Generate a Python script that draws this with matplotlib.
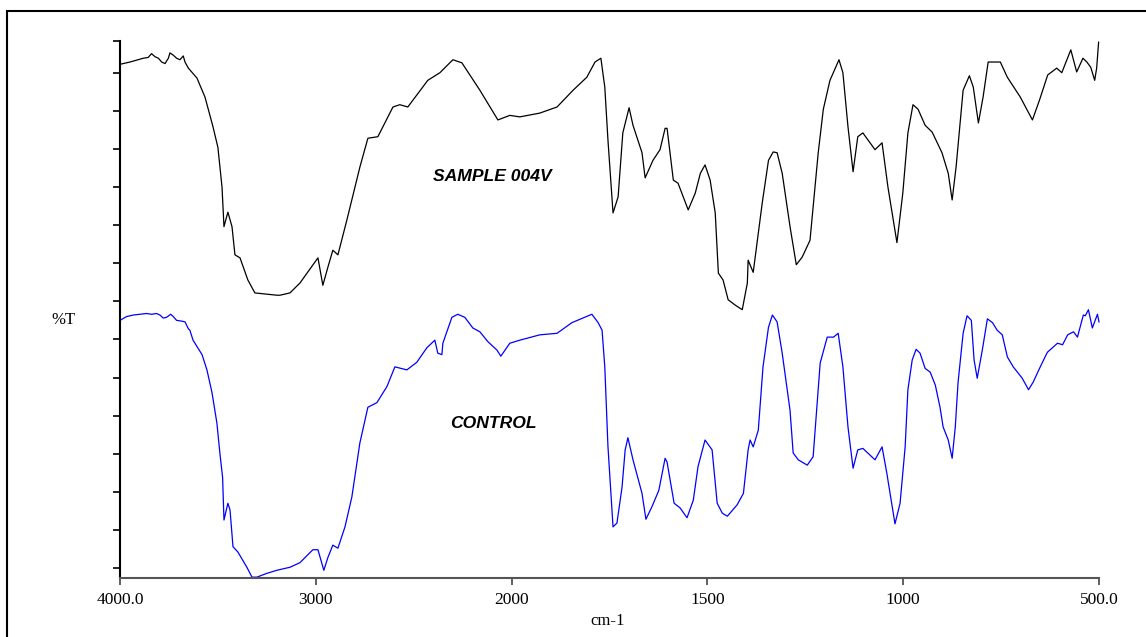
#import used libraries
import numpy as np
from matplotlib import pyplot as plt
from matplotlib.patches import Rectangle

#sample 004V spectrum (wavenumber cm-1, %T)
sample_wn = [4000, 3949, 3907, 3881, 3856, 3839, 3821, 3804, 3787, 3770, 3753, 3745, 3728, 3711,
             3694, 3677, 3668, 3651, 3607, 3566, 3525, 3500, 3479, 3474,
             3469, 3449, 3428, 3413, 3387, 3347, 3311, 3199, 3183, 3132, 3081, 3045, 2989, 2964,
             2938, 2913, 2887, 2841, 2775, 2734, 2683, 2606, 2571, 2530, 2428, 2366, 2300, 2254,
             2162, 2070, 2009, 1979, 1928, 1884, 1843, 1808, 1787, 1772, 1762, 1754, 1741, 1728,
             1716, 1700, 1690, 1667, 1659, 1639, 1621, 1608, 1603, 1587, 1575, 1549, 1531, 1518,
             1506, 1493, 1480, 1472, 1460, 1447, 1429, 1411, 1398, 1396, 1383, 1360, 1344, 1332,
             1322, 1309, 1289, 1273, 1258, 1238, 1217, 1204, 1187, 1164, 1154, 1141, 1128, 1116,
             1103, 1072, 1054, 1039, 1016, 1001, 988, 975, 962, 944, 926, 901, 885, 875, 865,
             847, 831, 821, 808, 796, 783, 770, 752, 734, 701, 670, 652, 631, 608, 595, 582,
             572, 557, 541, 531, 521, 511, 506, 501]
sample_t = [66.1, 66.4, 66.7, 66.9, 67.0, 67.5, 67.1, 66.9, 66.4, 66.2, 66.9, 67.6, 67.3, 66.9,
            66.7, 67.2, 66.4, 65.6, 64.3, 61.8, 57.9, 55.2, 50.0, 47.4,
            44.8, 46.7, 44.8, 41.1, 40.7, 37.8, 36.1, 35.8, 35.8, 36.1, 37.4, 38.7, 40.7, 37.1,
            39.5, 41.7, 41.1, 45.7, 52.6, 56.4, 56.6, 60.5, 60.8, 60.5, 64.0, 65.0, 66.7, 66.3,
            62.7, 58.8, 59.4, 59.2, 59.7, 60.5, 62.7, 64.4, 66.4, 66.9, 63.1, 56.2, 46.6, 48.7,
            57.1, 60.4, 58.1, 54.5, 51.2, 53.5, 54.9, 57.7, 57.7, 50.9, 50.5, 47.0, 49.2, 51.8,
            52.9, 50.9, 46.6, 38.7, 37.8, 35.2, 34.5, 33.9, 37.4, 40.4, 38.8, 47.9, 53.5, 54.6,
            54.5, 51.8, 44.8, 39.8, 40.8, 43.0, 54.5, 60.2, 64.0, 66.7, 65.0, 57.9, 52.0, 56.6,
            57.1, 54.9, 55.8, 50.0, 42.7, 49.2, 57.1, 60.8, 60.2, 58.1, 57.2, 54.5, 51.8, 48.3, 52.6,
            62.7, 64.6, 63.1, 58.4, 61.8, 66.4, 66.4, 66.4, 64.4, 61.8, 58.8, 61.4, 64.7, 65.6, 65.0, 66.7,
            68.0, 65.1, 66.9, 66.4, 65.7, 64.0, 65.6, 69.0]

#control spectrum (wavenumber cm-1, %T)
control_wn = [4000, 3966, 3932, 3898, 3864, 3839, 3813, 3796, 3779, 3762, 3741, 3728, 3711, 3685,
              3668, 3651, 3643, 3627, 3581, 3556, 3530, 3505,
              3490, 3476, 3472, 3469, 3449, 3438, 3423, 3398, 3352, 3326, 3301, 3250, 3199, 3132,
              3081, 3015, 2989, 2959, 2938, 2913, 2887, 2851, 2816, 2775, 2734, 2688, 2637, 2596,
              2535, 2484, 2433, 2392, 2377, 2356, 2351, 2305, 2275, 2239, 2198, 2162, 2121, 2075,
              2055, 2009, 1979, 1928, 1884, 1846, 1818, 1795, 1779, 1769, 1762, 1754, 1741, 1731,
              1718, 1710, 1703, 1690, 1667, 1657, 1642, 1624, 1608, 1603, 1585, 1570, 1552, 1536,
              1524, 1506, 1488, 1475, 1462, 1449, 1424, 1408, 1396, 1391, 1383, 1370, 1358, 1344,
              1334, 1322, 1309, 1289, 1281, 1268, 1245, 1230, 1212, 1194, 1178, 1166, 1154, 1141,
              1128, 1116, 1103, 1072, 1054, 1042, 1021, 1008, 995, 988, 977, 967, 957, 944, 931,
              918, 906, 898, 885, 875, 867, 860, 847, 837, 826, 819, 811, 798, 785, 772, 760, 747,
              734, 719, 696, 680, 668, 650, 632, 606, 593, 580, 565, 555, 540, 535, 527, 517, 504, 500]
control_t = [32.5, 33.0, 33.2, 33.3, 33.4, 33.3, 33.4, 33.2, 32.8, 32.9, 33.3, 33.0, 32.5, 32.4,
             32.3, 31.4, 31.2, 29.9, 28.0, 26.0, 23.0, 19.0,
             15.1, 11.9, 8.9, 6.3, 8.5, 7.6, 2.8, 2.1, 0.1, -1.2, -1.2, -0.7, -0.3, 0.1,
             0.7, 2.4, 2.4, -0.3, 1.4, 3.0, 2.6, 5.4, 9.3, 16.4, 21.1, 21.7, 23.8, 26.4,
             26.0, 27.0, 28.9, 29.9, 28.2, 28.0, 29.5, 32.9, 33.3, 32.9, 31.5, 31.0, 29.7, 28.6,
             27.8, 29.5, 29.9, 30.6, 30.8, 32.2, 32.8, 33.3, 32.2, 31.2, 26.4, 16.0, 5.4, 5.9,
             10.6, 15.5, 17.1, 14.2, 9.8, 6.4, 8.0, 10.2, 14.4, 13.9, 8.5, 7.9, 6.6, 8.9,
             13.3, 16.8, 15.5, 8.5, 7.2, 6.8, 8.3, 9.8, 15.5, 16.8, 15.9, 18.1, 26.4, 31.6,
             33.2, 32.3, 28.2, 20.7, 15.1, 14.2, 13.5, 14.6, 26.9, 30.3, 30.3, 30.8, 26.4, 18.5,
             13.1, 15.5, 15.7, 14.2, 15.9, 12.5, 5.8, 8.5, 15.9, 23.4, 27.3, 28.7, 28.2, 26.2, 25.7,
             24.0, 21.1, 18.5, 16.8, 14.4, 18.5, 24.3, 30.8, 33.1, 32.5, 27.3, 24.9, 28.6, 32.7, 32.2, 31.2, 30.6,
             27.7, 26.4, 24.9, 23.4, 24.4, 26.4, 28.3, 29.5, 29.3, 30.6, 31.0, 30.3, 33.2, 33.1, 33.9, 31.5, 33.3, 32.3]

#axis ticks
x_ticks = [4000, 3000, 2000, 1500, 1000, 500]
x_tick_labels = ['4000.0', '3000', '2000', '1500', '1000', '500.0']
y_min, y_max = -1.31, 69.16
y_ticks = list(range(0, 70, 5)) + [y_max]


#scale change at 2000 cm-1 (region below 2000 is expanded twice)
def forward(w):
    w = np.asarray(w, dtype=float)
    return np.where(w >= 2000, w, 2 * w - 2000)


def inverse(v):
    v = np.asarray(v, dtype=float)
    return np.where(v >= 2000, v, (v + 2000) / 2)


#make picture and layout
W, H = 1146, 637
fig = plt.figure(figsize=(W / 100, H / 100), dpi=100)
ax = fig.add_axes([120 / W, (H - 578) / H, (1099 - 120) / W, (578 - 41) / H])
ax.set_xscale('function', functions=(forward, inverse))

#plot spectra
ax.plot(sample_wn, sample_t, color='black', lw=0.9, clip_on=False)
ax.plot(control_wn, control_t, color='#0000ff', lw=0.9, clip_on=False)

ax.set_xlim(4000, 500)
ax.set_ylim(y_min, y_max)
ax.set_xticks(x_ticks)
ax.set_xticklabels(x_tick_labels, family='Liberation Serif', fontsize=12.5)
ax.set_yticks(y_ticks)
ax.set_yticklabels([])
ax.tick_params(axis='x', direction='out', length=5, width=1.2, color='#444444', pad=5)
ax.tick_params(axis='y', direction='out', length=5, width=1.2, color='black')

#spines
ax.spines['top'].set_visible(False)
ax.spines['right'].set_visible(False)
ax.spines['left'].set_linewidth(1.5)
ax.spines['bottom'].set_linewidth(1.5)
ax.spines['bottom'].set_color('#555555')

#axis labels
ax.set_xlabel('cm-1', family='Liberation Serif', fontsize=12)
ax.xaxis.set_label_coords((608 - 120) / (1099 - 120), -(621 - 578) / (578 - 41))
ax.xaxis.label.set_va('center')
ax.set_ylabel('%T', family='Liberation Serif', fontsize=12, rotation=0)
ax.yaxis.set_label_coords((63 - 120) / (1099 - 120), (578 - 320) / (578 - 41))
ax.yaxis.label.set_va('center')
ax.yaxis.label.set_ha('center')

#sample names
ax.text(0.380, 0.747, 'SAMPLE 004V', transform=ax.transAxes, ha='center', va='center',
        family='Liberation Sans', fontsize=12.6, fontweight='bold', fontstyle='italic')
ax.text(0.381, 0.288, 'CONTROL', transform=ax.transAxes, ha='center', va='center',
        family='Liberation Sans', fontsize=12.6, fontweight='bold', fontstyle='italic')

#outer frame
fig.add_artist(Rectangle((7 / W, -0.1), 1.2, 1 - 11 / H + 0.1, transform=fig.transFigure,
                         fill=False, lw=1.5, edgecolor='black'))

plt.savefig('out.png', dpi=100)
plt.close()
